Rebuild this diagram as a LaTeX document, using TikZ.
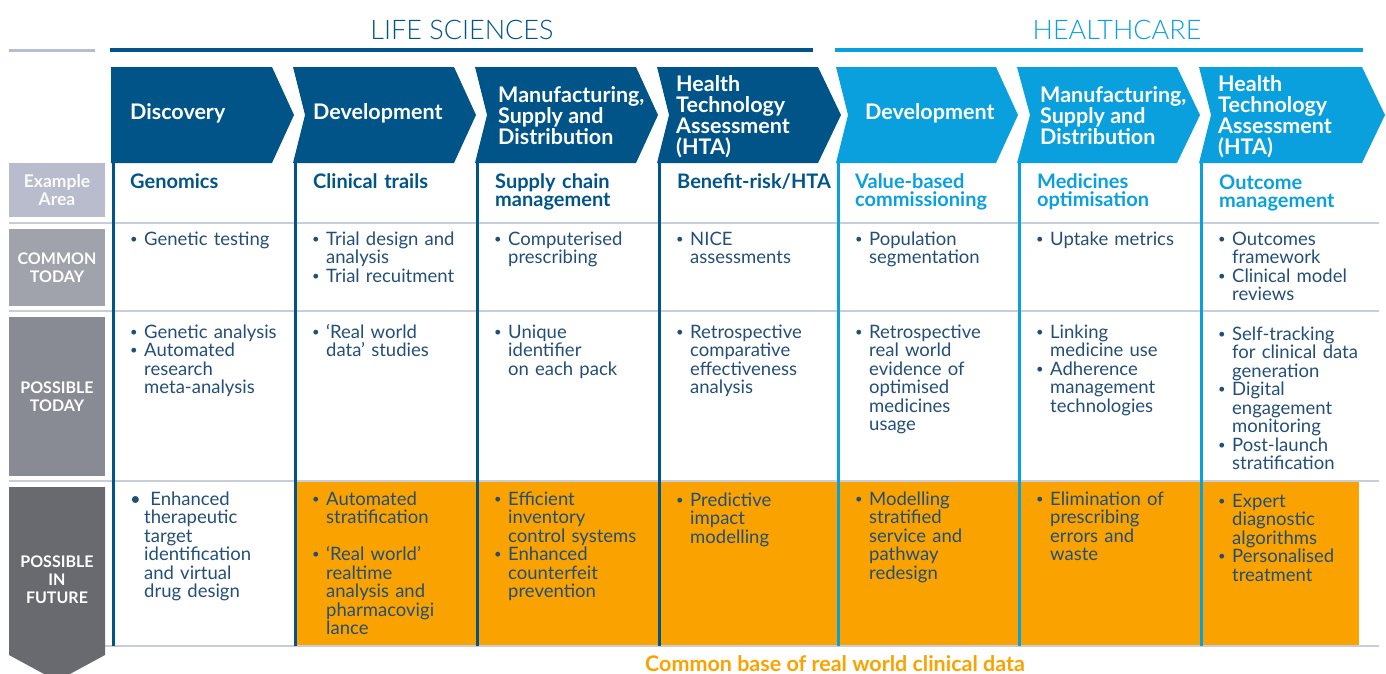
\documentclass[tikz,border=0pt]{standalone}
\usepackage{fontspec}
\setmainfont{Lato}
\newfontfamily\lightfont{Lato Light}
\usepackage{xcolor}
\usepackage{tikz}

\definecolor{lsblue}{RGB}{0,84,136}
\definecolor{hcblue}{RGB}{10,160,222}
\definecolor{bodytext}{RGB}{35,78,120}
\definecolor{futureorange}{RGB}{250,163,0}
\definecolor{rulegrey}{RGB}{200,205,216}
\definecolor{areagrey}{RGB}{185,188,204}
\definecolor{commongrey}{RGB}{160,162,172}
\definecolor{possiblegrey}{RGB}{136,138,148}
\definecolor{futuregrey}{RGB}{105,106,112}

\newcommand{\itm}{\noindent\leavevmode\llap{\makebox[14pt][l]{\raisebox{0.2ex}{\scalebox{0.7}{\textbullet}}}}}
\newcommand{\bigitm}{\noindent\leavevmode\llap{\makebox[14pt][l]{\textbullet}}\ }

\begin{document}
\begin{tikzpicture}[x=1pt, y=-1pt,
  cell/.style={anchor=base west, text width=160pt, align=left, inner sep=0pt, text=bodytext, font={\fontsize{18.5}{18.5}\selectfont\lineskiplimit=-20pt}},
  area/.style={anchor=base west, text width=170pt, align=left, inner sep=0pt, font={\bfseries\fontsize{20}{18.5}\selectfont\lineskiplimit=-20pt}},
  phasetext/.style={anchor=west, align=left, inner sep=0pt, text=white, font=\bfseries\fontsize{21.5}{21}\selectfont},
  rowlabel/.style={align=center, inner sep=0pt, text=white, font=\bfseries\fontsize{16}{18}\selectfont},
  sectiontitle/.style={inner sep=0pt, font=\lightfont\fontsize{27}{27}\selectfont},
  rowrule/.style={rulegrey, line width=2pt},
  colrule/.style={line width=3pt},
]
  \useasboundingbox (0,0) rectangle (1386,673);

  % section titles
  \node[sectiontitle, text=lsblue] (life) at (462,30) {LIFE SCIENCES};
  \node[sectiontitle, text=hcblue] (health) at (1117,30) {HEALTHCARE};
  \draw[areagrey, line width=3pt] (9,50) -- (95,50);
  \draw[lsblue, line width=4pt] (110,50) -- (813,50);
  \draw[hcblue, line width=4pt] (835,50) -- (1363,50);

  % future row background
  \fill[futureorange] (295,482) rectangle (1359,645);

  % row rules
  \draw[rowrule] (9,223) -- (1379,223);
  \draw[rowrule] (9,311) -- (1379,311);
  \draw[rowrule] (9,481) -- (1379,481);
  \draw[rowrule] (9,646) -- (1379,646);

  % column rules
  \draw[colrule, lsblue] (113,163) -- (113,646);
  \draw[colrule, lsblue] (295,163) -- (295,646);
  \draw[colrule, lsblue] (477,163) -- (477,646);
  \draw[colrule, lsblue] (659,163) -- (659,646);
  \draw[colrule, hcblue] (838,163) -- (838,646);
  \draw[colrule, hcblue] (1019,163) -- (1019,646);
  \draw[colrule, hcblue] (1201,163) -- (1201,646);

  % chevrons
  \fill[lsblue] (111,67) -- (272,67) -- (294,115) -- (272,163) -- (111,163) -- cycle;
  \fill[lsblue] (293,67) -- (454,67) -- (476,115) -- (454,163) -- (293,163) -- (305,115) -- cycle;
  \fill[lsblue] (475,67) -- (636,67) -- (658,115) -- (636,163) -- (475,163) -- (487,115) -- cycle;
  \fill[lsblue] (657,67) -- (818,67) -- (841,115) -- (818,163) -- (657,163) -- (669,115) -- cycle;
  \fill[hcblue] (836,67) -- (996,67) -- (1018,115) -- (996,163) -- (836,163) -- (848,115) -- cycle;
  \fill[hcblue] (1017,67) -- (1177,67) -- (1200,115) -- (1177,163) -- (1017,163) -- (1030,115) -- cycle;
  \fill[hcblue] (1199,67) -- (1362,67) -- (1385,115) -- (1362,163) -- (1199,163) -- (1211,115) -- cycle;

  \node[phasetext] (p-1) at (130,113) {Discovery};
  \node[phasetext] (p-2) at (313,113) {Development};
  \node[phasetext] (p-3) at (498,116) {Manufacturing,\\Supply and\\Distribution};
  \node[phasetext] (p-4) at (676,117) {Health\\Technology\\Assessment\\(HTA)};
  \node[phasetext] (p-5) at (865,113) {Development};
  \node[phasetext] (p-6) at (1040,116) {Manufacturing,\\Supply and\\Distribution};
  \node[phasetext] (p-7) at (1218,117) {Health\\Technology\\Assessment\\(HTA)};

  % row labels
  \node[rowlabel, fill=areagrey, text=white!94!areagrey, minimum width=96pt, minimum height=54pt, font=\bfseries\fontsize{17.5}{18}\selectfont] (area-label) at (57,190) {Example\\Area};
  \node[rowlabel, fill=commongrey, minimum width=96pt, minimum height=77pt] (common-label) at (57,267.5) {COMMON\\TODAY};
  \node[rowlabel, fill=possiblegrey, minimum width=96pt, minimum height=159pt] (possible-label) at (57,396.5) {POSSIBLE\\TODAY};
  \fill[futuregrey] (9,487) -- (105,487) -- (105,655) -- (57,681) -- (9,655) -- cycle;
  \node[rowlabel] (future-label) at (57,580) {POSSIBLE\\IN\\FUTURE};

  % example areas
  \node[area, text=lsblue] (a-1) at (130,188) {Genomics};
  \node[area, text=lsblue] (a-2) at (313,188) {Clinical trails};
  \node[area, text=lsblue] (a-3) at (495,188) {Supply chain\\management};
  \node[area, text=lsblue] (a-4) at (677,188) {Benefit-risk/HTA};
  \node[area, text=hcblue] (a-5) at (855,188) {Value-based\\commissioning};
  \node[area, text=hcblue] (a-6) at (1037,188) {Medicines\\optimisation};
  \node[area, text=hcblue] (a-7) at (1219,189) {Outcome\\management};

  % common today
  \node[cell] (c-1) at (144,245) {\itm Genetic testing};
  \node[cell] (c-2) at (326,245) {\itm Trial design and\\analysis\\\itm Trial recuitment};
  \node[cell] (c-3) at (508,245) {\itm Computerised\\prescribing};
  \node[cell] (c-4) at (690,245) {\itm NICE\\assessments};
  \node[cell] (c-5) at (869,245) {\itm Population\\segmentation};
  \node[cell] (c-6) at (1050,245) {\itm Uptake metrics};
  \node[cell] (c-7) at (1232,245) {\itm Outcomes\\framework\\\itm Clinical model\\reviews};

  % possible today
  \node[cell] (t-1) at (144,338) {\itm Genetic analysis\\\itm Automated\\research\\meta-analysis};
  \node[cell] (t-2) at (326,338) {\itm ‘Real world\\data’ studies};
  \node[cell] (t-3) at (508,338) {\itm Unique\\identifier\\on each pack};
  \node[cell] (t-4) at (690,338) {\itm Retrospective\\comparative\\effectiveness\\analysis};
  \node[cell] (t-5) at (869,338) {\itm Retrospective\\real world\\evidence of\\optimised\\medicines\\usage};
  \node[cell] (t-6) at (1050,338) {\itm Linking\\medicine use\\\itm Adherence\\management\\technologies};
  \node[cell] (t-7) at (1232,340) {\itm Self-tracking\\for clinical data\\generation\\\itm Digital\\engagement\\monitoring\\\itm Post-launch\\stratification};

  % possible in future
  \node[cell] (f-1) at (144,505) {\bigitm Enhanced\\therapeutic\\target\\identification\\and virtual\\drug design};
  \node[cell] (f-2) at (326,505) {\itm Automated\\stratification\\[18.5pt]\itm ‘Real world’\\realtime\\analysis and\\pharmacovigi\\lance};
  \node[cell] (f-3) at (508,505) {\itm Efficient\\inventory\\control systems\\\itm Enhanced\\counterfeit\\prevention};
  \node[cell] (f-4) at (690,506) {\itm Predictive\\impact\\modelling};
  \node[cell] (f-5) at (869,505) {\itm Modelling\\stratified\\service and\\pathway\\redesign};
  \node[cell] (f-6) at (1050,505) {\itm Elimination of\\prescribing\\errors and\\waste};
  \node[cell] (f-7) at (1232,507) {\itm Expert\\diagnostic\\algorithms\\\itm Personalised\\treatment};

  \node[anchor=base, inner sep=0pt, text=futureorange, font=\bfseries\fontsize{21.5}{21.5}\selectfont] (base) at (835,671) {Common base of real world clinical data};
\end{tikzpicture}
\end{document}
